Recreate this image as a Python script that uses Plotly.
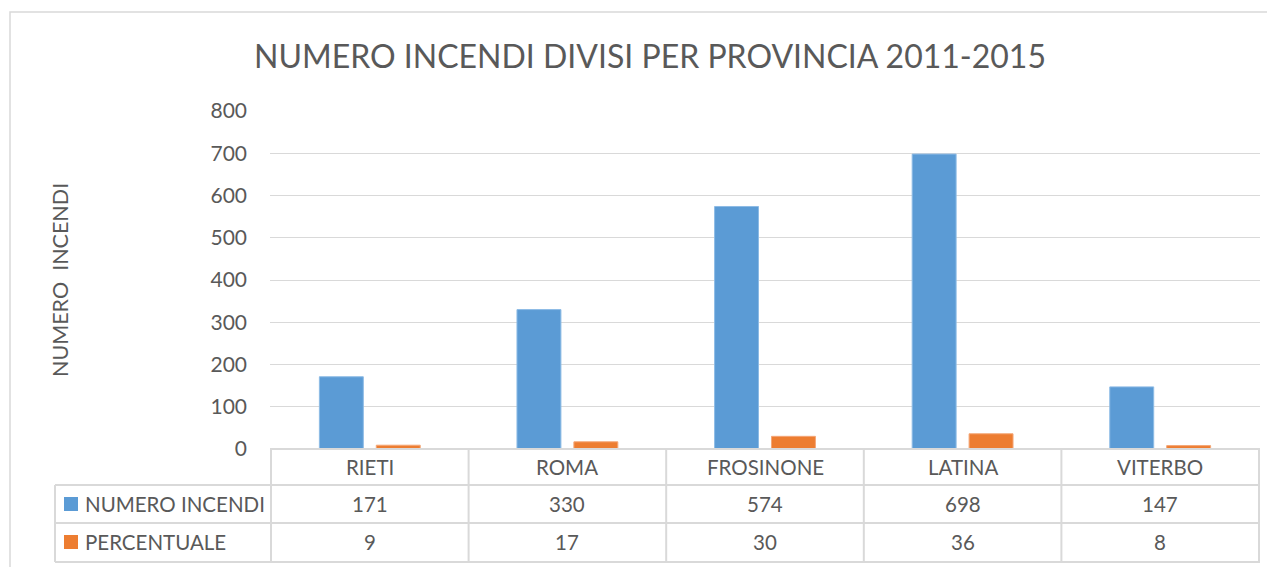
import plotly.graph_objects as go

categories = ["RIETI", "ROMA", "FROSINONE", "LATINA", "VITERBO"]
numero_incendi = [171, 330, 574, 698, 147]
percentuale = [9, 17, 30, 36, 8]
series_names = ["NUMERO INCENDI", "PERCENTUALE"]
y_ticks = [0, 100, 200, 300, 400, 500, 600, 700, 800]

BLUE = "#5B9BD5"
ORANGE = "#ED7D31"
TXT = "#595959"
GRID = "#D9D9D9"
FONT = "Lato"

OFF = 8  # page body margin
W, H = 1275 - OFF, 567 - OFF
L, R, T, B = 270 - OFF, 15, 111 - OFF, 118
PW = W - L - R
PH = H - T - B

def py(p):  # screen pixel y -> paper y
    return (H - B - (p - OFF)) / PH

def px(p):  # screen pixel x -> paper x
    return ((p - OFF) - L) / PW

fig = go.Figure()
fig.add_trace(go.Bar(x=categories, y=numero_incendi, name=series_names[0],
                     marker=dict(color=BLUE, line=dict(color="#8DBBE5", width=1))))
fig.add_trace(go.Bar(x=categories, y=percentuale, name=series_names[1],
                     marker=dict(color=ORANGE, line=dict(color="#F4A777", width=1))))

shapes = []
line = dict(color=GRID, width=2)
# outer chart border
shapes.append(dict(type="rect", xref="paper", yref="paper", x0=px(10), x1=px(1272),
                   y0=py(580), y1=py(12), line=dict(color=GRID, width=1.5), layer="below"))
# table horizontal lines
shapes.append(dict(type="line", xref="paper", yref="paper", x0=0, x1=1, y0=0, y1=0, line=line))
for yy in (485, 523, 562):
    shapes.append(dict(type="line", xref="paper", yref="paper", x0=px(55), x1=1,
                       y0=py(yy), y1=py(yy), line=line))
# table vertical lines (category boundaries)
for i in range(len(categories) + 1):
    shapes.append(dict(type="line", xref="x", yref="paper", x0=i - 0.5, x1=i - 0.5,
                       y0=0, y1=py(562), line=line))
shapes.append(dict(type="line", xref="paper", yref="paper", x0=px(55), x1=px(55),
                   y0=py(485), y1=py(562), line=line))
# legend keys in table
for c, yy in [(BLUE, 504), (ORANGE, 542)]:
    shapes.append(dict(type="rect", xref="paper", yref="paper", x0=px(64), x1=px(78),
                       y0=py(yy + 7), y1=py(yy - 7), fillcolor=c, line=dict(width=0)))

ann = []
tf = dict(family=FONT, size=20.5, color=TXT)
common = dict(showarrow=False, yanchor="middle", font=tf)
for i, c in enumerate(categories):
    ann.append(dict(x=c, xref="x", y=py(467), yref="paper", text=c, xanchor="center", **common))
    ann.append(dict(x=c, xref="x", y=py(504), yref="paper", text=str(numero_incendi[i]),
                    xanchor="center", **common))
    ann.append(dict(x=c, xref="x", y=py(542), yref="paper", text=str(percentuale[i]),
                    xanchor="center", **common))
for name, yy in zip(series_names, (504, 542)):
    ann.append(dict(x=px(83), xref="paper", y=py(yy), yref="paper", text=name,
                    xanchor="left", **common))
ann.append(dict(x=px(60), xref="paper", y=py(280), yref="paper", text="NUMERO  INCENDI",
                textangle=-90, showarrow=False, xanchor="center", yanchor="middle",
                font=dict(family=FONT, size=21.5, color=TXT)))

fig.update_layout(
    width=W, height=H,
    margin=dict(l=L, r=R, t=T, b=B),
    paper_bgcolor="white", plot_bgcolor="white",
    title=dict(text="NUMERO INCENDI DIVISI PER PROVINCIA 2011-2015", x=(650 - OFF) / W,
               xanchor="center", y=1 - (57 - OFF) / H, yanchor="middle",
               font=dict(family=FONT, size=32, color=TXT)),
    barmode="group", bargap=0.424, bargroupgap=0.228,
    showlegend=False,
    xaxis=dict(showticklabels=False, showgrid=False, zeroline=False, showline=False, ticks=""),
    yaxis=dict(range=[0, 800], tickvals=y_ticks, showgrid=True, gridcolor=GRID, gridwidth=1,
               zeroline=False, showline=False, ticks="", ticklabelstandoff=22,
               tickfont=dict(family=FONT, size=21, color=TXT)),
    shapes=shapes, annotations=ann,
)
fig.write_html("out.html")
